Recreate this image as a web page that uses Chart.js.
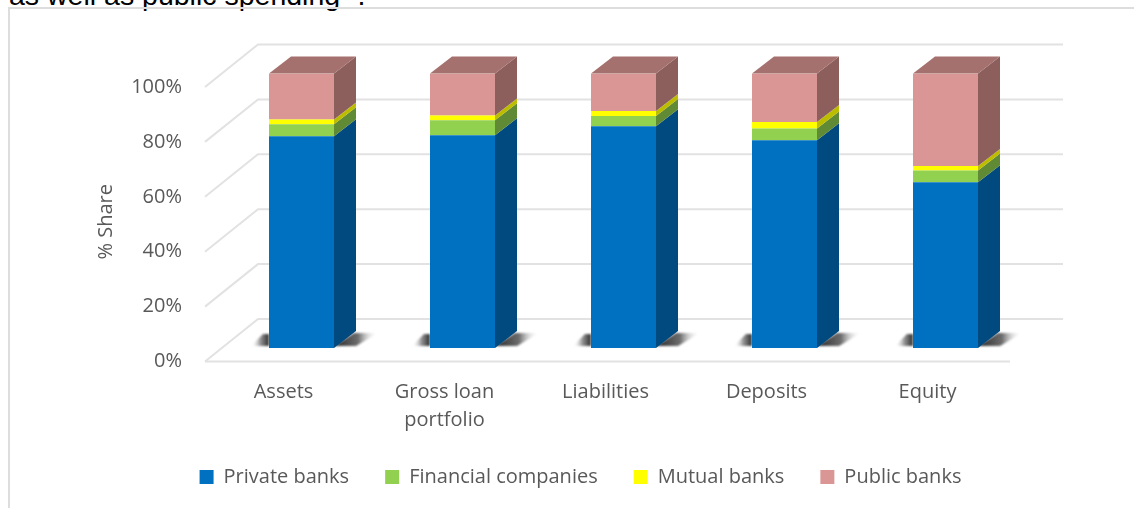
<!DOCTYPE html>
<html>
<head>
<meta charset="utf-8">
<style>
  html, body { margin: 0; padding: 0; background: #fff; overflow: hidden; }
  #page { position: relative; width: 1134px; height: 508px; overflow: hidden; }
  #testo { position: absolute; left: 9px; top: -21px; font: 28.5px/32px "Liberation Sans", Arial, sans-serif; color: #000; white-space: nowrap; }
  #testo sup { font-size: 17px; line-height: 0; }
  #cornice { position: absolute; left: 8px; top: 7px; width: 1200px; height: 600px; border: 2px solid #dddddd; }
  #grafico { position: absolute; left: 0; top: 0; }
</style>
<script src="https://cdn.jsdelivr.net/npm/chart.js@4"></script>
</head>
<body>
<div id="page">
  <div id="testo">as well as public spending <sup>4</sup>.</div>
  <div id="cornice"></div>
  <canvas id="grafico" width="1134" height="508"></canvas>
</div>
<script>
const categorie = [["Assets"], ["Gross loan", "portfolio"], ["Liabilities"], ["Deposits"], ["Equity"]];
const privateBanks = [77.1, 77.5, 80.8, 75.7, 60.4];
const financialCompanies = [4.4, 5.5, 3.7, 4.3, 4.3];
const mutualBanks = [1.7, 1.7, 1.8, 2.3, 1.6];
const publicBanks = [16.8, 15.3, 13.7, 17.7, 33.7];
const yTicks = [0, 20, 40, 60, 80, 100];

const FONT = '"Open Sans", sans-serif';
const GRIGIO = "#595959";
// profondita' finta del 3D
const DX = 22, DY = -17;

function poligono(ctx, punti, colore) {
    ctx.fillStyle = colore;
    ctx.beginPath();
    punti.forEach((p, i) => i ? ctx.lineTo(p[0], p[1]) : ctx.moveTo(p[0], p[1]));
    ctx.closePath();
    ctx.fill();
}

// Griglia prospettica e ombre, sotto le barre
const pareti = {
    id: "pareti",
    beforeDraw(chart) {
        const y = chart.scales.y;
        if (!y._titoloSpostato) {
            // il titolo nativo e' centrato sull'area: lo abbasso un po'
            const orig = y.drawTitle;
            y.drawTitle = function () {
                chart.ctx.save();
                chart.ctx.translate(0, 11);
                orig.call(this);
                chart.ctx.restore();
            };
            y._titoloSpostato = true;
        }
    },
    beforeDatasetsDraw(chart) {
        const ctx = chart.ctx, area = chart.chartArea, y = chart.scales.y;
        const xFronte = area.left - 16, xFondo = area.left + 37, fine = area.right;
        ctx.save();
        ctx.strokeStyle = "#e2e2e2";
        ctx.lineWidth = 2;
        yTicks.forEach(v => {
            const py = y.getPixelForValue(v);
            ctx.beginPath();
            ctx.moveTo(xFronte, py + 13.5);
            ctx.lineTo(xFondo, py - 29);
            ctx.lineTo(fine + 37, py - 29);
            ctx.stroke();
        });
        const py0 = y.getPixelForValue(0);
        ctx.beginPath();
        ctx.moveTo(xFronte, py0 + 13.5);
        ctx.lineTo(fine - 16, py0 + 13.5);
        ctx.stroke();
        // ombre a terra
        ctx.filter = "blur(1px)";
        chart.getDatasetMeta(0).data.forEach(bar => {
            const sx = bar.x - bar.width / 2, dx = bar.x + bar.width / 2;
            let g = ctx.createLinearGradient(dx, 0, dx + 44, 0);
            g.addColorStop(0, "#2a2a2a");
            g.addColorStop(0.55, "#6e6e6e");
            g.addColorStop(1, "rgba(255,255,255,0)");
            poligono(ctx, [[dx, py0 - 2], [dx + 20, py0 - 15], [dx + 44, py0 - 15], [dx + 22, py0 - 2]], g);
            g = ctx.createLinearGradient(sx - 18, 0, sx, 0);
            g.addColorStop(0, "rgba(255,255,255,0)");
            g.addColorStop(0.5, "#9a9a9a");
            g.addColorStop(1, "#2f2f2f");
            poligono(ctx, [[sx - 18, py0 - 2], [sx - 6, py0 - 14], [sx, py0 - 14], [sx, py0 - 2]], g);
        });
        ctx.restore();
    },
    afterLayout(chart) {
        // la legenda del grafico originale e' spostata a destra
        chart.legend.left = 27;
        chart.legend.right = 1134;
        chart.legend.top = 431;
    },
    afterDatasetsDraw(chart) {
        const ctx = chart.ctx;
        chart.data.datasets.forEach((ds, i) => {
            chart.getDatasetMeta(i).data.forEach(bar => {
                const r = bar.x + bar.width / 2, l = bar.x - bar.width / 2;
                poligono(ctx, [[r, bar.y], [r + DX, bar.y + DY], [r + DX, bar.base + DY], [r, bar.base]], ds.sideColor);
                if (i === chart.data.datasets.length - 1) {
                    poligono(ctx, [[l, bar.y], [l + DX, bar.y + DY], [r + DX, bar.y + DY], [r, bar.y]], ds.topColor);
                }
            });
        });
    }
};

new Chart(document.getElementById("grafico"), {
    type: "bar",
    data: {
        labels: categorie,
        datasets: [
            { label: "Private banks", data: privateBanks, backgroundColor: "#0070C0", sideColor: "#004A80" },
            { label: "Financial companies", data: financialCompanies, backgroundColor: "#92D050", sideColor: "#618A35" },
            { label: "Mutual banks", data: mutualBanks, backgroundColor: "#FFFF00", sideColor: "#BDBD00" },
            { label: "Public banks", data: publicBanks, backgroundColor: "#D99694", sideColor: "#8C5F5D", topColor: "#A5716E" }
        ]
    },
    options: {
        responsive: false,
        animation: false,
        devicePixelRatio: 1,
        barPercentage: 1,
        categoryPercentage: 65 / 161,
        layout: { padding: { left: 0, right: 108, top: 73.5, bottom: 4 } },
        plugins: {
            tooltip: { enabled: false },
            legend: {
                position: "bottom",
                labels: {
                    boxWidth: 14,
                    boxHeight: 14,
                    padding: 36,
                    color: GRIGIO,
                    font: { family: FONT, size: 20 }
                }
            }
        },
        scales: {
            x: {
                stacked: true,
                grid: { display: false, drawTicks: false },
                border: { display: false },
                afterFit(scale) { scale.height = 90; },
                ticks: {
                    color: GRIGIO,
                    font: { family: FONT, size: 20, lineHeight: 1.4 },
                    labelOffset: -18,
                    padding: 30,
                    maxRotation: 0
                }
            },
            y: {
                stacked: true,
                min: 0,
                max: 100,
                grid: { display: false, drawTicks: false },
                border: { display: false },
                afterFit(scale) { scale.width = 221; },
                title: {
                    display: true,
                    text: "% Share",
                    color: GRIGIO,
                    font: { family: FONT, size: 20 },
                    padding: { top: 94, bottom: 0 }
                },
                ticks: {
                    stepSize: 20,
                    color: GRIGIO,
                    font: { family: FONT, size: 20 },
                    labelOffset: 13.5,
                    padding: 39,
                    callback: v => v + "%"
                }
            }
        }
    },
    plugins: [pareti]
});
</script>
</body>
</html>
